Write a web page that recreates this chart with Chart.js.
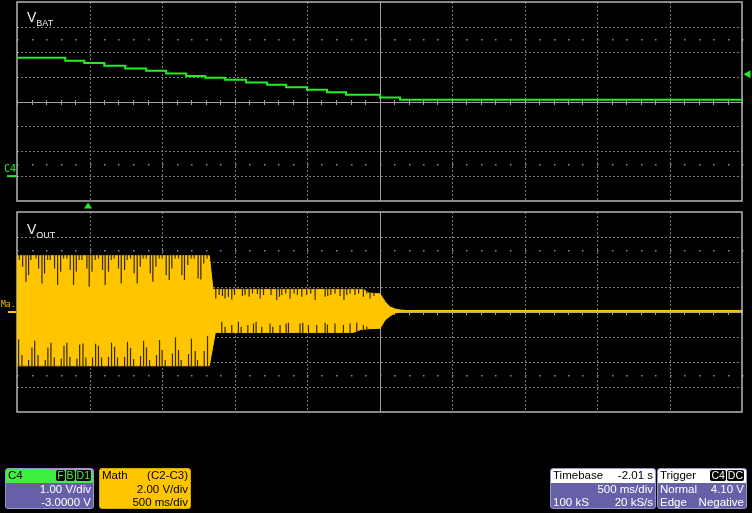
<!DOCTYPE html>
<html><head><meta charset="utf-8">
<script src="https://cdn.jsdelivr.net/npm/chart.js@4.4.1/dist/chart.umd.min.js"></script>
<style>
html,body{margin:0;padding:0;background:#000;}
body{position:relative;width:752px;height:513px;overflow:hidden;font-family:"Liberation Sans",Arial,Helvetica,sans-serif;}
canvas{position:absolute;left:0;top:0;}
.tr{position:absolute;color:#f0f0f0;font-size:14px;line-height:16px;white-space:nowrap;}
.tr sub{font-size:9px;vertical-align:-4px;line-height:0;}
.box{position:absolute;top:468px;height:41px;border-radius:3px;overflow:hidden;font-size:11.5px;line-height:13.6px;box-sizing:border-box;}
.row{display:flex;justify-content:space-between;align-items:center;padding:0 2px;height:13.6px;white-space:nowrap;}
.purple{background:#6660a8;color:#fff;border:1px solid #9a96c8;}
.hdgreen{background:#3ff03f;color:#000;}
.hdwhite{background:#fff;color:#000;}
.math{background:#ffc600;color:#000;border:1px solid #d9a800;}
.bdg{display:inline-block;background:#000;border-radius:2px;padding:0 1px;margin-left:1px;line-height:11px;font-size:10.5px;}
.bg{color:#3ff03f;}
.bw{color:#fff;}
</style>
</head><body>
<canvas id="top" width="752" height="513"></canvas>
<canvas id="bot" width="752" height="513"></canvas>

<div class="tr" style="left:27px;top:9px;">V<sub>BAT</sub></div>
<div class="tr" style="left:27px;top:221px;">V<sub>OUT</sub></div>

<div class="box purple" style="left:5px;width:89px;">
  <div class="row hdgreen"><span>C4</span><span><span class="bdg bg">F</span><span class="bdg bg">B</span><span class="bdg bg">D1</span></span></div>
  <div class="row" style="justify-content:flex-end"><span>1.00 V/div</span></div>
  <div class="row" style="justify-content:flex-end"><span>-3.0000 V</span></div>
</div>
<div class="box math" style="left:99px;width:92px;">
  <div class="row"><span>Math</span><span>(C2-C3)</span></div>
  <div class="row" style="justify-content:flex-end"><span>2.00 V/div</span></div>
  <div class="row" style="justify-content:flex-end"><span>500 ms/div</span></div>
</div>
<div class="box purple" style="left:550px;width:106px;">
  <div class="row hdwhite"><span>Timebase</span><span>-2.01 s</span></div>
  <div class="row" style="justify-content:flex-end"><span>500 ms/div</span></div>
  <div class="row"><span>100 kS</span><span>20 kS/s</span></div>
</div>
<div class="box purple" style="left:657px;width:90px;">
  <div class="row hdwhite"><span>Trigger</span><span><span class="bdg bw">C4</span><span class="bdg bw">DC</span></span></div>
  <div class="row"><span>Normal</span><span>4.10 V</span></div>
  <div class="row"><span>Edge</span><span>Negative</span></div>
</div>

<script>
// ---------- data (time in s, volts) ----------
const timeDivs = [-0.49, 0.01, 0.51, 1.01, 1.51, 2.01, 2.51, 3.01, 3.51, 4.01, 4.51];
const vbatDivs = [-1, 0, 1, 2, 3, 4, 5, 6, 7];
const voutDivs = [-8, -6, -4, -2, 0, 2, 4, 6, 8];
const triggerTime = 0;
const triggerLevel = 4.10;

// VBAT (C4) staircase
const vbatTime  = [-0.49, -0.157, -0.026, 0.112, 0.256, 0.401, 0.539, 0.677, 0.808, 0.945, 1.090, 1.235, 1.366, 1.510, 1.648, 1.779, 2.014, 2.152, 4.51];
const vbatVolts = [4.76, 4.64, 4.55, 4.44, 4.33, 4.24, 4.13, 4.03, 3.95, 3.87, 3.76, 3.67, 3.57, 3.47, 3.37, 3.27, 3.16, 3.07, 3.07];

// VOUT (Math C2-C3) envelope
const envT  = [-0.49, 0.836, 0.862, 0.878, 1.830, 1.880, 1.900, 1.935, 2.014, 2.049, 2.083, 2.118, 2.152, 2.200, 4.51];
const envHi = [4.50, 4.50, 1.81, 1.81, 1.81, 1.81, 1.81, 1.52, 1.45, 0.82, 0.40, 0.24, 0.16, 0.12, 0.12];
const envLo = [-4.30, -4.30, -2.65, -1.63, -1.63, -1.40, -1.38, -1.34, -1.30, -0.64, -0.32, -0.08, 0.00, 0.02, 0.02];

// dropouts (dark spikes) in the waveform
const bigTopT = [-0.474,-0.451,-0.428,-0.410,-0.394,-0.359,-0.341,-0.318,-0.300,-0.279,-0.261,-0.231,-0.210,-0.189,-0.169,-0.146,-0.123,-0.100,-0.081,-0.061,-0.042,-0.008,0.008,0.027,0.049,0.072,0.100,0.118,0.141,0.160,0.180,0.210,0.229,0.252,0.270,0.293,0.318,0.339,0.360,0.380,0.401,0.429,0.447,0.468,0.491,0.511,0.539,0.560,0.578,0.601,0.624,0.647,0.665,0.688,0.711,0.732,0.759,0.778,0.798,0.821];
const bigTopV = [4.16,3.63,2.43,2.96,4.16,4.29,3.49,2.29,3.09,4.16,4.16,3.49,2.16,3.23,4.29,4.29,3.36,2.16,3.23,4.16,4.16,3.49,2.03,3.23,4.16,4.29,3.36,2.16,3.23,4.16,4.29,3.49,2.29,3.36,4.16,4.29,3.09,2.29,3.63,4.29,4.29,3.09,2.43,3.63,4.29,4.29,2.96,2.56,3.49,4.29,4.29,2.96,2.56,3.76,4.29,4.29,2.69,2.61,3.89,4.29];
const bigBotT = [-0.479,-0.456,-0.410,-0.387,-0.368,-0.345,-0.295,-0.277,-0.256,-0.233,-0.185,-0.166,-0.146,-0.125,-0.077,-0.058,-0.035,-0.015,0.031,0.052,0.072,0.093,0.141,0.162,0.183,0.203,0.252,0.272,0.293,0.314,0.362,0.383,0.403,0.424,0.472,0.493,0.511,0.532,0.582,0.603,0.624,0.642,0.693,0.713,0.739,0.755,0.801,0.824];
const bigBotV = [-2.19,-3.44,-3.84,-2.83,-2.29,-3.44,-3.84,-2.83,-2.45,-3.63,-3.71,-2.69,-2.45,-3.57,-3.71,-2.59,-2.51,-3.63,-3.63,-2.53,-2.69,-3.63,-3.57,-2.45,-2.77,-3.63,-3.57,-2.37,-2.85,-3.76,-3.52,-2.29,-2.83,-3.84,-3.44,-2.24,-3.04,-3.84,-3.31,-2.03,-3.04,-3.84,-3.36,-2.11,-3.12,-3.84,-3.12,-1.92];
const midTopT = [0.881,0.904,0.927,0.945,0.968,0.991,1.010,1.065,1.083,1.111,1.134,1.168,1.187,1.210,1.262,1.301,1.320,1.336,1.363,1.393,1.421,1.444,1.474,1.508,1.536,1.566,1.635,1.653,1.674,1.703,1.738,1.765,1.784,1.807,1.841,1.866,1.899,1.922,1.945,1.972];
const midTopV = [1.09,1.36,1.28,1.09,1.23,1.01,1.36,1.28,1.36,1.23,1.49,1.44,1.09,1.36,1.36,0.96,1.23,1.36,1.49,1.09,1.49,1.36,1.23,1.36,1.49,0.96,1.23,1.28,1.36,1.49,1.28,0.96,1.36,1.49,1.36,1.49,1.23,1.49,1.09,1.28];
const midBotT = [0.922,0.945,0.991,1.037,1.056,1.102,1.141,1.159,1.198,1.255,1.274,1.324,1.366,1.382,1.462,1.481,1.520,1.577,1.635,1.651,1.703,1.761,1.807,1.853,1.899,1.922];
const midBotV = [-0.77,-1.17,-1.04,-0.77,-1.17,-1.04,-0.91,-0.77,-1.17,-0.91,-1.17,-1.04,-0.91,-0.85,-0.91,-0.85,-1.04,-1.04,-0.85,-0.99,-0.91,-1.04,-0.91,-0.85,-1.04,-1.17];

// ---------- styling ----------
const GREEN = '#22ee22';
const YEL = '#ffc600';
const SPIKE = 'rgb(52,42,6)';

// minor grid positions (1/5 division) for center-axis ticks and dot rows
const timeMinor = [];
for (let i = 0; i < timeDivs.length - 1; i++) {
  for (let k = 0; k < 5; k++) timeMinor.push(timeDivs[i] + (timeDivs[i+1] - timeDivs[i]) * k / 5);
}
timeMinor.push(timeDivs[timeDivs.length - 1]);

function envAt(arr, t) {
  for (let i = 0; i < envT.length - 1; i++) {
    if (t >= envT[i] && t <= envT[i+1]) {
      const f = (t - envT[i]) / (envT[i+1] - envT[i]);
      return arr[i] + f * (arr[i+1] - arr[i]);
    }
  }
  return arr[arr.length - 1];
}
function spikeData(T, V, edge, ext) {
  const out = [];
  const n = Math.min(T.length, V.length);
  for (let i = 0; i < n; i++) {
    out.push({x: T[i], y: envAt(edge, T[i]) + ext}, {x: T[i], y: V[i]}, {x: T[i], y: null});
  }
  return out;
}

const gridPlugin = {
  id: 'scopeGrid',
  beforeDatasetsDraw(chart, args, o) {
    const {ctx, chartArea: a, scales: {x, y}} = chart;
    const px = v => Math.round(x.getPixelForValue(v)) + 0.5;
    const py = v => Math.round(y.getPixelForValue(v)) + 0.5;
    const line = (x1, y1, x2, y2) => { ctx.beginPath(); ctx.moveTo(x1, y1); ctx.lineTo(x2, y2); ctx.stroke(); };
    const divs = o.divs;
    ctx.save();
    ctx.lineWidth = 1;
    ctx.strokeStyle = '#7a7a7a';
    ctx.setLineDash([2, 2]);
    timeDivs.forEach((t, i) => { if (i === 0 || i === timeDivs.length - 1 || i === 5) return; line(px(t), a.top, px(t), a.bottom); });
    divs.forEach((v, i) => { if (i === 0 || i === divs.length - 1 || v === o.center) return; line(a.left, py(v), a.right, py(v)); });
    ctx.setLineDash([]);
    ctx.strokeStyle = '#a2a2a2';
    line(px(timeDivs[5]), a.top, px(timeDivs[5]), a.bottom);
    line(a.left, py(o.center), a.right, py(o.center));
    timeMinor.forEach(t => line(px(t), py(o.center) - 2.5, px(t), py(o.center) + 2.5));
    ctx.fillStyle = '#8c8c8c';
    o.dots.forEach(v => timeMinor.forEach(t => ctx.fillRect(Math.round(x.getPixelForValue(t)), Math.round(y.getPixelForValue(v)), 1.5, 1.5)));
    ctx.strokeStyle = '#b4b4b4';
    ctx.lineWidth = 1.5;
    ctx.strokeRect(a.left, a.top, a.right - a.left, a.bottom - a.top);
    ctx.restore();
  }
};

const markerPlugin = {
  id: 'scopeMarkers',
  afterDatasetsDraw(chart, args, o) {
    const {ctx, chartArea: a, scales: {x, y}} = chart;
    ctx.save();
    ctx.fillStyle = o.color;
    ctx.strokeStyle = o.color;
    ctx.font = o.font;
    ctx.textBaseline = 'alphabetic';
    const y0 = y.getPixelForValue(0);
    ctx.fillText(o.label, o.labelX, y0 - o.labelDy);
    ctx.lineWidth = 2;
    ctx.beginPath(); ctx.moveTo(o.dashX1, y0); ctx.lineTo(o.dashX2, y0); ctx.stroke();
    if (o.trigger) {
      const tx = x.getPixelForValue(triggerTime);
      ctx.beginPath(); ctx.moveTo(tx, a.bottom + 1.5); ctx.lineTo(tx + 4, a.bottom + 7.5); ctx.lineTo(tx - 4, a.bottom + 7.5); ctx.closePath(); ctx.fill();
      const ty = y.getPixelForValue(triggerLevel);
      ctx.beginPath(); ctx.moveTo(a.right + 1.5, ty); ctx.lineTo(a.right + 8.5, ty - 4); ctx.lineTo(a.right + 8.5, ty + 4); ctx.closePath(); ctx.fill();
    }
    ctx.restore();
  }
};

function makeChart(id, padTop, padBottom, yMin, yMax, datasets, gridOpts, markOpts) {
  return new Chart(document.getElementById(id), {
    type: 'line',
    data: {datasets},
    options: {
      responsive: false, animation: false, events: [],
      layout: {padding: {left: 17, right: 10, top: padTop, bottom: padBottom}},
      plugins: {legend: {display: false}, tooltip: {enabled: false}, scopeGrid: gridOpts, scopeMarkers: markOpts},
      scales: {
        x: {type: 'linear', min: timeDivs[0], max: timeDivs[timeDivs.length - 1], display: false},
        y: {type: 'linear', min: yMin, max: yMax, display: false}
      },
      elements: {point: {radius: 0}, line: {tension: 0}}
    },
    plugins: [gridPlugin, markerPlugin]
  });
}

makeChart('top', 2, 312, vbatDivs[0], vbatDivs[vbatDivs.length - 1], [
  {data: vbatTime.map((t, i) => ({x: t, y: vbatVolts[i]})), stepped: true, borderColor: GREEN, borderWidth: 2, pointRadius: 0, fill: false}
], {divs: vbatDivs, center: 3, dots: [0.5, 5.5]},
   {color: GREEN, font: '10px "DejaVu Sans Mono", monospace', label: 'C4', labelX: 4, labelDy: 4, dashX1: 7, dashX2: 17, trigger: true});

const spikes = [].concat(
  spikeData(bigTopT, bigTopV, envHi, 0.06),
  spikeData(bigBotT, bigBotV, envLo, -0.06),
  spikeData(midTopT, midTopV, envHi, 0.05),
  spikeData(midBotT, midBotV, envLo, -0.05)
);

makeChart('bot', 212, 101, voutDivs[0], voutDivs[voutDivs.length - 1], [
  {data: envT.map((t, i) => ({x: t, y: envHi[i]})), fill: '+1', backgroundColor: YEL, borderColor: YEL, borderWidth: 1, pointRadius: 0, order: 2},
  {data: envT.map((t, i) => ({x: t, y: envLo[i]})), fill: false, borderColor: YEL, borderWidth: 1, pointRadius: 0, order: 1},
  {data: spikes, borderColor: SPIKE, borderWidth: 1.2, pointRadius: 0, fill: false, spanGaps: false, order: 0}
], {divs: voutDivs, center: 0, dots: [-5, 5]},
   {color: YEL, font: '8px "DejaVu Sans Mono", monospace', label: 'Ma.', labelX: 1, labelDy: 5, dashX1: 8, dashX2: 16, trigger: false});
</script>
</body></html>
